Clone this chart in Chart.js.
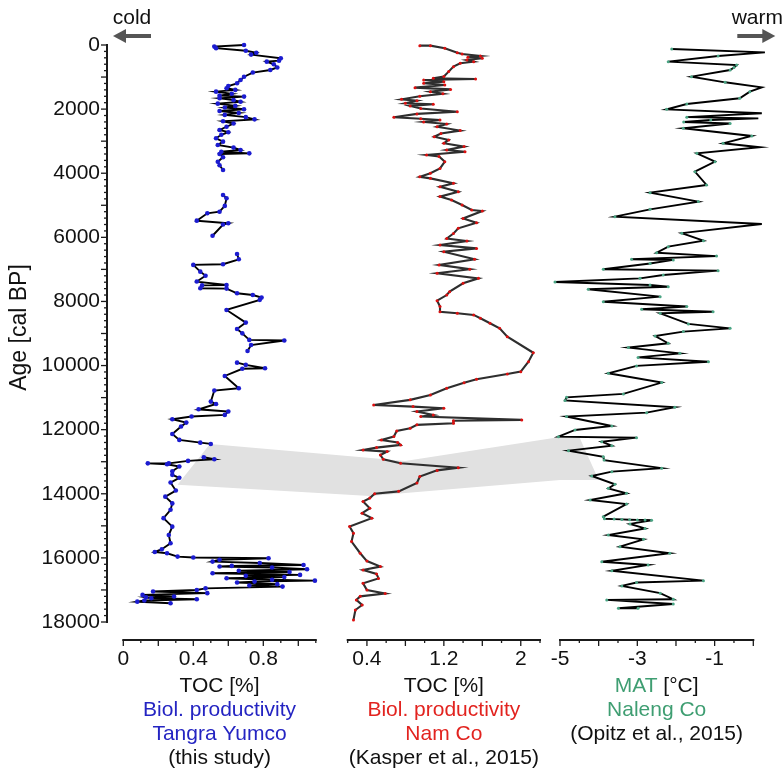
<!DOCTYPE html>
<html><head><meta charset="utf-8">
<script src="https://cdn.jsdelivr.net/npm/chart.js@4/dist/chart.umd.min.js"></script>
<style>html,body{margin:0;padding:0;background:#fff}canvas{display:block}</style>
</head><body>
<canvas id="c" width="782" height="771"></canvas>
<script>
// ---------------- DATA ----------------
// Tangra Yumco TOC [%] (null = gap in record)
const tangraAge = [0,50,100,180,240,300,415,490,520,600,700,780,860,990,1090,1195,1280,1350,1400,1455,1520,1580,1610,1660,1720,1770,1830,1900,1950,2005,2060,2120,2180,2250,2320,2380,2450,2550,2650,2720,2800,2910,3015,3120,3200,3275,3330,3380,3400,3500,3640,3750,3900,
  null,
  4680,4780,5020,5200,5250,5480,5560,5600,5950,
  null,
  6520,6685,6840,6860,7070,7200,7380,7485,7500,7590,7600,7745,7800,7880,7950,8265,8660,8860,8995,9200,9220,9360,9545,
  null,
  9910,9980,10085,10100,10325,10710,10780,11125,11200,11365,11435,11540,11590,11675,11780,11900,12135,12320,12405,12445,
  null,
  12860,12925,12975,13050,13050,13080,13150,13300,13410,13500,13650,13900,14090,14300,14500,14760,15025,15285,15545,15730,15815,15855,15960,15990,16010,16060,16115,16160,16220,16250,16270,16300,16355,16400,16440,16480,16530,16560,16600,16635,16680,16710,16740,16770,16820,16860,16895,16950,17000,17050,17100,17155,17205,17230,17260,17290,17330,17365,17415];
const tangraToc = [0.69,0.52,0.53,0.70,0.76,0.73,0.90,0.89,0.82,0.86,0.88,0.84,0.74,0.69,0.67,0.65,0.60,0.59,0.64,0.53,0.62,0.55,0.69,0.55,0.63,0.67,0.54,0.64,0.58,0.69,0.55,0.66,0.58,0.70,0.75,0.57,0.63,0.59,0.55,0.60,0.56,0.53,0.57,0.54,0.63,0.67,0.56,0.72,0.55,0.57,0.54,0.55,0.57,
  null,
  0.57,0.59,0.58,0.55,0.48,0.42,0.60,0.57,0.51,
  null,
  0.65,0.66,0.57,0.40,0.44,0.47,0.42,0.59,0.45,0.44,0.59,0.65,0.74,0.79,0.78,0.59,0.70,0.65,0.68,0.72,0.92,0.73,0.71,
  null,
  0.65,0.70,0.81,0.68,0.58,0.66,0.52,0.50,0.53,0.43,0.60,0.58,0.39,0.28,0.36,0.33,0.28,0.32,0.44,0.50,
  null,
  0.46,0.52,0.37,0.26,0.14,0.25,0.32,0.28,0.28,0.32,0.27,0.30,0.24,0.28,0.27,0.23,0.28,0.26,0.27,0.22,0.18,0.25,0.31,0.40,0.83,0.55,0.51,0.78,1.03,0.62,0.55,0.85,1.05,0.66,0.95,0.51,1.01,0.70,0.92,0.59,0.85,1.095,0.75,0.65,0.88,0.72,0.91,0.47,0.42,0.17,0.48,0.11,0.29,0.13,0.16,0.42,0.12,0.08,0.27];

// Nam Co TOC [%]
const namcoAge = [20,20,100,240,280,343,380,415,470,520,570,675,830,985,1040,1060,1090,1145,1195,1250,1330,1385,1455,1520,1600,1695,1740,1820,1850,1900,1980,2080,2150,2255,2300,2340,2400,2465,2550,2670,2760,2860,2960,3065,3170,3275,3330,3430,3480,3640,3850,4000,4110,4160,4315,4420,4575,4730,4835,4990,5145,5180,5410,5545,5720,5880,6035,6115,6240,6345,6450,6685,6860,6995,7120,7280,7435,7695,7800,7975,8160,8320,8370,8420,8525,8680,8840,9100,9600,9880,10190,10265,10430,10535,10710,10920,11070,11230,11280,11330,11435,11540,11590,11695,11720,11800,11850,11955,12040,12215,12320,12400,12475,12560,12635,12685,12790,12925,13050,13185,13270,13460,13665,13925,14000,14135,14240,14450,14605,14760,15020,15230,15490,15855,16100,16270,16375,16500,16640,16795,17000,17110,17200,17310,17470,17625,17935];
const namcoToc = [0.95,1.06,1.21,1.34,1.39,1.58,1.45,1.60,1.44,1.51,1.37,1.30,1.25,1.20,1.09,1.53,0.99,1.20,0.99,1.21,0.90,1.27,1.06,1.19,0.95,0.76,0.92,0.80,1.09,0.85,0.96,1.34,0.92,0.68,0.96,1.16,0.99,1.23,1.13,1.37,1.17,1.10,1.25,1.20,1.41,1.23,1.42,1.02,1.15,1.21,1.16,1.06,0.95,1.06,1.30,1.16,1.35,1.16,1.28,1.39,1.49,1.60,1.40,1.54,1.35,1.30,1.23,1.44,1.16,1.54,1.20,1.52,1.15,1.47,1.13,1.56,1.40,1.26,1.23,1.13,1.16,1.16,1.34,1.51,1.58,1.68,1.78,1.86,2.13,2.08,2.00,1.86,1.54,1.41,1.23,1.06,0.85,0.47,0.88,1.20,0.92,1.09,0.96,2.01,1.30,1.30,0.92,0.85,0.71,0.68,0.55,0.72,0.75,0.50,0.36,0.61,0.54,0.57,0.75,1.35,1.13,0.95,0.92,0.73,0.48,0.43,0.36,0.43,0.35,0.45,0.22,0.26,0.24,0.33,0.40,0.54,0.36,0.50,0.52,0.36,0.40,0.59,0.33,0.29,0.35,0.28,0.26];

// Naleng Co MAT [°C]
const nalengAge = [125,229,343,520,624,700,780,988,1164,1320,1456,1663,1840,2007,2131,2250,2290,2340,2400,2450,2599,2838,3067,3191,3379,3639,3951,4367,4606,4886,5126,5355,5583,5870,6105,6290,6480,6585,6685,6705,6815,6995,7040,7175,7280,7395,7485,7540,7620,7850,8010,8160,8245,8320,8370,8700,8840,8940,9080,9305,9440,9620,9745,9880,10010,10240,10530,10885,10990,11090,11300,11470,11590,11885,12010,12220,12250,12375,12500,12655,12845,12950,13200,13310,13445,13705,13830,13985,14195,14320,14715,14780,14790,14800,14810,14815,14820,14825,14940,15080,15285,15420,15650,15855,16120,16220,16400,16710,16770,16875,17100,17290,17310,17440,17570,17570];
const nalengMat = [-2.11,0.30,-0.91,-2.20,-0.43,-0.50,-0.60,-1.60,-0.73,0.22,-0.09,-0.35,-1.72,-2.24,0.22,-1.72,0.13,-1.10,-1.80,-0.60,-1.81,-0.04,-0.78,0.17,-1.46,-0.99,-1.51,-1.21,-2.67,-1.42,-2.67,-3.58,0.22,-1.85,-1.29,-2.20,-2.50,-0.95,-3.15,-2.07,-2.67,-3.88,-0.91,-2.33,-2.93,-5.13,-2.67,-2.20,-4.27,-2.41,-3.88,-1.72,-2.89,-1.04,-2.41,-1.68,-0.60,-1.81,-2.54,-2.20,-3.23,-1.90,-2.98,-1.16,-3.02,-3.75,-2.37,-3.36,-4.83,-4.87,-2.03,-2.76,-4.83,-3.66,-4.61,-5.04,-3.02,-3.92,-3.66,-4.78,-3.88,-3.86,-2.37,-3.66,-4.18,-3.58,-3.75,-3.28,-4.22,-3.28,-3.88,-3.85,-3.60,-3.40,-3.20,-3.00,-2.80,-2.63,-3.19,-2.80,-3.75,-2.84,-3.45,-2.16,-3.92,-2.72,-3.66,-1.29,-3.02,-3.40,-2.41,-2.07,-3.79,-2.07,-3.49,-2.98];

// Tick labels
const ageTicks = [0,2000,4000,6000,8000,10000,12000,14000,16000,18000];
const tangraTicks = [0,0.4,0.8];
const namcoTicks = [0.4,1.2,2];
const nalengTicks = [-5,-3,-1];

// Grey correlation band (axis id, x value, age) in polygon order
const bandAxis  = ['x1','x2','x3','x3','x3','x3','x2','x1'];
const bandValue = [0.495,0.797,-5,-4.5,-4.0,-5,0.43,0.31];
const bandAge   = [12450,12980,12230,12230,13570,13570,14070,13720];

// ---------------- STYLE ----------------
const FONT = "'Liberation Sans', Arial, Helvetica, sans-serif";
const INK = '#111111';
const BLUE = '#2424c2', RED = '#e2231f', GREEN = '#3f9e72';
Chart.defaults.font.family = FONT;

function series(ages, vals){
  return ages.map((a,i)=> a===null ? {x:null,y:null} : {x:vals[i], y:a});
}
const fmt = v => String(Math.round(v*10)/10);

function xAxis(min, max, labels, weight){
  return {
    type:'linear', position:'bottom', stack:'panels', stackWeight:weight, min, max,
    grid:{display:false, drawTicks:false, tickLength:0}, border:{display:false},
    ticks:{font:{family:FONT,size:21}, color:INK, padding:25, maxRotation:0, autoSkip:false, callback:v=>fmt(v)},
    afterBuildTicks: s => { s.ticks = labels.map(v=>({value:v})); },
    afterFit: s => { s.height = 149; }
  };
}
function spacer(weight){
  return {type:'linear', position:'bottom', stack:'panels', stackWeight:weight, display:false, min:0, max:1,
    afterFit: s => { s.height = 149; }};
}

const axisTicks = {
  x1:{minor:0.1, major:0.2},
  x2:{minor:0.2, major:0.4},
  x3:{minor:0.5, major:1}
};

const axesPlugin = {
  id:'axesPlugin',
  beforeDatasetsDraw(chart){
    const ctx = chart.ctx, ys = chart.scales.y;
    ctx.save();
    ctx.beginPath();
    bandAxis.forEach((id,i)=>{
      const px = chart.scales[id].getPixelForValue(bandValue[i]);
      const py = ys.getPixelForValue(bandAge[i]);
      if(i===0) ctx.moveTo(px,py); else ctx.lineTo(px,py);
    });
    ctx.closePath();
    ctx.fillStyle = '#e1e1e1';
    ctx.fill();
    ctx.restore();
  },
  afterDraw(chart){
    const ctx = chart.ctx, ys = chart.scales.y;
    ctx.save();
    ctx.strokeStyle = '#1a1a1a';
    // y axis
    const x0 = ys.right;
    const yTop = ys.getPixelForValue(0), yBot = ys.getPixelForValue(18000);
    ctx.lineWidth = 2;
    ctx.beginPath(); ctx.moveTo(x0, yTop-1); ctx.lineTo(x0, yBot+1); ctx.stroke();
    ctx.lineWidth = 1.3;
    for(let a=0; a<=18000; a+=200){
      const p = ys.getPixelForValue(a);
      const len = (a % 1000 === 0) ? 6 : 3;
      ctx.beginPath(); ctx.moveTo(x0, p); ctx.lineTo(x0-len, p); ctx.stroke();
    }
    // x axes
    Object.keys(axisTicks).forEach(id=>{
      const s = chart.scales[id], t = axisTicks[id];
      const y0 = s.top + 18;
      ctx.lineWidth = 2;
      ctx.beginPath(); ctx.moveTo(s.left-1, y0); ctx.lineTo(s.right+1, y0); ctx.stroke();
      ctx.lineWidth = 1.3;
      const n = Math.round((s.max - s.min)/t.minor);
      for(let i=0;i<=n;i++){
        const v = s.min + i*t.minor;
        const r = v/t.major;
        const major = Math.abs(r - Math.round(r)) < 1e-6;
        const p = s.getPixelForValue(v);
        ctx.beginPath(); ctx.moveTo(p, y0); ctx.lineTo(p, y0 + (major?6:3)); ctx.stroke();
      }
    });
    // y title
    ctx.fillStyle = INK;
    ctx.font = '23px ' + FONT;
    ctx.textAlign = 'center'; ctx.textBaseline = 'middle';
    ctx.save();
    ctx.translate(20, (yTop + yBot)/2 - 6);
    ctx.rotate(-Math.PI/2);
    ctx.fillText('Age [cal BP]', 0, 0);
    ctx.restore();
    // bottom titles
    const titles = {
      x1:[[['TOC [%]',INK]],[['Biol. productivity',BLUE]],[['Tangra Yumco',BLUE]],[['(this study)',INK]]],
      x2:[[['TOC [%]',INK]],[['Biol. productivity',RED]],[['Nam Co',RED]],[['(Kasper et al., 2015)',INK]]],
      x3:[[['MAT',GREEN],[' [°C]',INK]],[['Naleng Co',GREEN]],[['(Opitz et al., 2015)',INK]]]
    };
    ctx.font = '21px ' + FONT;
    ctx.textAlign = 'left';
    Object.keys(titles).forEach(id=>{
      const s = chart.scales[id];
      const cx = (s.left + s.right)/2;
      titles[id].forEach((parts, li)=>{
        const y = s.top + 64 + li*24;
        const w = parts.reduce((acc,p)=>acc + ctx.measureText(p[0]).width, 0);
        let x = cx - w/2;
        parts.forEach(p=>{ ctx.fillStyle = p[1]; ctx.fillText(p[0], x, y); x += ctx.measureText(p[0]).width; });
      });
    });
    // cold / warm arrows
    const ca = chart.chartArea;
    const ay = ca.top - 9;
    function arrow(tail, tip){
      const dir = Math.sign(tip - tail), head = 13;
      ctx.strokeStyle = '#555'; ctx.fillStyle = '#555'; ctx.lineWidth = 4;
      ctx.beginPath(); ctx.moveTo(tail, ay); ctx.lineTo(tip - dir*head + dir*1, ay); ctx.stroke();
      ctx.beginPath(); ctx.moveTo(tip, ay); ctx.lineTo(tip - dir*head, ay-7); ctx.lineTo(tip - dir*head, ay+7); ctx.closePath(); ctx.fill();
    }
    arrow(ca.left + 44, ca.left + 6);
    arrow(ca.right - 16, ca.right + 22);
    ctx.fillStyle = INK; ctx.font = '21px ' + FONT; ctx.textAlign = 'center'; ctx.textBaseline = 'alphabetic';
    ctx.fillText('cold', ca.left + 25, ca.top - 21);
    ctx.fillText('warm', ca.right + 4, ca.top - 21);
    ctx.restore();
  }
};

new Chart(document.getElementById('c'), {
  type:'line',
  data:{
    datasets:[
      {label:'Tangra Yumco TOC', data:series(tangraAge,tangraToc), xAxisID:'x1', yAxisID:'y',
       borderColor:'#000', borderWidth:1.9, pointRadius:2.3, pointBackgroundColor:'#1c1cd0', pointBorderWidth:0, clip:false, tension:0},
      {label:'Nam Co TOC', data:series(namcoAge,namcoToc), xAxisID:'x2', yAxisID:'y',
       borderColor:'#2e2e2e', borderWidth:2.1, pointRadius:1.5, pointBackgroundColor:'#dd1010', pointBorderWidth:0, clip:false, tension:0},
      {label:'Naleng Co MAT', data:series(nalengAge,nalengMat), xAxisID:'x3', yAxisID:'y',
       borderColor:'#000', borderWidth:1.9, pointRadius:1.5, pointBackgroundColor:'#4aa584', pointBorderWidth:0, clip:false, tension:0}
    ]
  },
  options:{
    responsive:false, animation:false, devicePixelRatio:1,
    spanGaps:false,
    layout:{padding:{left:0, right:28.7, top:45, bottom:0}},
    plugins:{legend:{display:false}, tooltip:{enabled:false}},
    scales:{
      y:{type:'linear', position:'left', reverse:true, min:0, max:18000,
         grid:{display:false, drawTicks:false, tickLength:0}, border:{display:false},
         ticks:{font:{family:FONT,size:21}, color:INK, padding:7, autoSkip:false, callback:v=>String(v)},
         afterBuildTicks: s => { s.ticks = ageTicks.map(v=>({value:v})); },
         afterFit: s => { s.width = 107; }},
      s0: spacer(16.3),
      x1: xAxis(0, 1.1, tangraTicks, 192.5),
      s1: spacer(31.9),
      x2: xAxis(0.2, 2.2, namcoTicks, 192.3),
      s2: spacer(20),
      x3: xAxis(-5, 0, nalengTicks, 193.3)
    }
  },
  plugins:[axesPlugin]
});
</script>
</body></html>
